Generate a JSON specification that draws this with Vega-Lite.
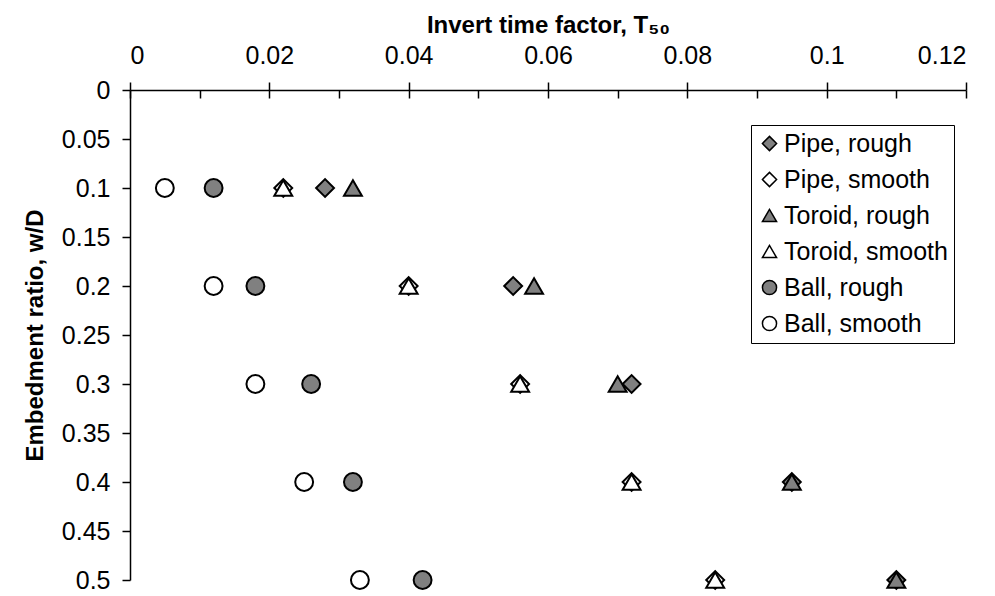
{
  "$schema": "https://vega.github.io/schema/vega-lite/v6.json",
  "width": 836,
  "height": 490,
  "autosize": {"type": "none"},
  "padding": {"left": 130, "top": 90, "right": 29, "bottom": 16},
  "background": "white",
  "config": {
    "view": {"stroke": null},
    "font": "Liberation Sans",
    "legend": {"strokeColor": "black", "fillColor": "white", "padding": 6},
    "axis": {
      "domainColor": "black",
      "domainWidth": 1.5,
      "tickColor": "black",
      "tickWidth": 1.5,
      "labelColor": "black",
      "labelFont": "Liberation Sans",
      "labelFontSize": 25,
      "titleFont": "Liberation Sans",
      "titleFontSize": 24,
      "titleFontWeight": "bold",
      "titleColor": "black",
      "grid": false
    }
  },
  "data": {
    "values": [
      {"series": "Pipe, rough", "t50": 0.028, "wd": 0.1},
      {"series": "Pipe, rough", "t50": 0.055, "wd": 0.2},
      {"series": "Pipe, rough", "t50": 0.072, "wd": 0.3},
      {"series": "Pipe, rough", "t50": 0.095, "wd": 0.4},
      {"series": "Pipe, rough", "t50": 0.110, "wd": 0.5},
      {"series": "Pipe, smooth", "t50": 0.022, "wd": 0.1},
      {"series": "Pipe, smooth", "t50": 0.040, "wd": 0.2},
      {"series": "Pipe, smooth", "t50": 0.056, "wd": 0.3},
      {"series": "Pipe, smooth", "t50": 0.072, "wd": 0.4},
      {"series": "Pipe, smooth", "t50": 0.084, "wd": 0.5},
      {"series": "Toroid, rough", "t50": 0.032, "wd": 0.1},
      {"series": "Toroid, rough", "t50": 0.058, "wd": 0.2},
      {"series": "Toroid, rough", "t50": 0.070, "wd": 0.3},
      {"series": "Toroid, rough", "t50": 0.095, "wd": 0.4},
      {"series": "Toroid, rough", "t50": 0.110, "wd": 0.5},
      {"series": "Toroid, smooth", "t50": 0.022, "wd": 0.1},
      {"series": "Toroid, smooth", "t50": 0.040, "wd": 0.2},
      {"series": "Toroid, smooth", "t50": 0.056, "wd": 0.3},
      {"series": "Toroid, smooth", "t50": 0.072, "wd": 0.4},
      {"series": "Toroid, smooth", "t50": 0.084, "wd": 0.5},
      {"series": "Ball, rough", "t50": 0.012, "wd": 0.1},
      {"series": "Ball, rough", "t50": 0.018, "wd": 0.2},
      {"series": "Ball, rough", "t50": 0.026, "wd": 0.3},
      {"series": "Ball, rough", "t50": 0.032, "wd": 0.4},
      {"series": "Ball, rough", "t50": 0.042, "wd": 0.5},
      {"series": "Ball, smooth", "t50": 0.005, "wd": 0.1},
      {"series": "Ball, smooth", "t50": 0.012, "wd": 0.2},
      {"series": "Ball, smooth", "t50": 0.018, "wd": 0.3},
      {"series": "Ball, smooth", "t50": 0.025, "wd": 0.4},
      {"series": "Ball, smooth", "t50": 0.033, "wd": 0.5}
    ]
  },
  "layer": [
    {
      "mark": {"type": "point", "opacity": 0},
      "encoding": {
        "x": {
          "field": "t50", "type": "quantitative",
          "scale": {"domain": [0, 0.12], "nice": false, "zero": false},
          "axis": {
            "orient": "top",
            "values": [0, 0.01, 0.02, 0.03, 0.04, 0.05, 0.06, 0.07, 0.08, 0.09, 0.1, 0.11, 0.12],
            "tickSize": -8,
            "labels": false,
            "domain": false,
            "title": null
          }
        },
        "y": {
          "field": "wd", "type": "quantitative",
          "scale": {"domain": [0, 0.5], "reverse": true, "nice": false, "zero": false},
          "axis": {
            "values": [0, 0.05, 0.1, 0.15, 0.2, 0.25, 0.3, 0.35, 0.4, 0.45, 0.5],
            "labelExpr": "datum.value + ''",
            "tickSize": 8,
            "labelPadding": 12,
            "title": "Embedment ratio, w/D",
            "titlePadding": 14
          }
        }
      }
    },
    {
      "mark": {"type": "point", "filled": true, "size": 320, "stroke": "black", "strokeWidth": 2, "opacity": 1},
      "encoding": {
        "x": {
          "field": "t50", "type": "quantitative",
          "scale": {"domain": [0, 0.12], "nice": false, "zero": false},
          "axis": {
            "orient": "top",
            "values": [0, 0.02, 0.04, 0.06, 0.08, 0.1, 0.12],
            "labelExpr": "datum.value + ''",
            "tickSize": 8,
            "labelPadding": 14,
            "title": "Invert time factor, T₅₀",
            "titlePadding": 6
          }
        },
        "y": {
          "field": "wd", "type": "quantitative",
          "scale": {"domain": [0, 0.5], "reverse": true, "nice": false, "zero": false},
          "axis": {
            "values": [0, 0.05, 0.1, 0.15, 0.2, 0.25, 0.3, 0.35, 0.4, 0.45, 0.5],
            "labelExpr": "datum.value + ''",
            "tickSize": 8,
            "labelPadding": 12,
            "title": "Embedment ratio, w/D",
            "titlePadding": 14
          }
        },
        "shape": {
          "field": "series", "type": "nominal",
          "scale": {
            "domain": ["Pipe, rough", "Pipe, smooth", "Toroid, rough", "Toroid, smooth", "Ball, rough", "Ball, smooth"],
            "range": ["diamond", "diamond", "triangle-up", "triangle-up", "circle", "circle"]
          },
          "legend": {
            "orient": "none",
            "legendX": 621,
            "legendY": 35,
            "title": null,
            "labelFontSize": 25,
            "labelLimit": 400,
            "labelColor": "black",
            "labelFont": "Liberation Sans",
            "labelOffset": 2,
            "symbolSize": 200,
            "rowPadding": 10,
            "encode": {
              "symbols": {"update": {"stroke": {"value": "black"}, "strokeWidth": {"value": 2}}}
            }
          }
        },
        "fill": {
          "field": "series", "type": "nominal",
          "scale": {
            "domain": ["Pipe, rough", "Pipe, smooth", "Toroid, rough", "Toroid, smooth", "Ball, rough", "Ball, smooth"],
            "range": ["#808080", "white", "#808080", "white", "#808080", "white"]
          }
        }
      }
    }
  ],
  "resolve": {"axis": {"x": "independent"}}
}
